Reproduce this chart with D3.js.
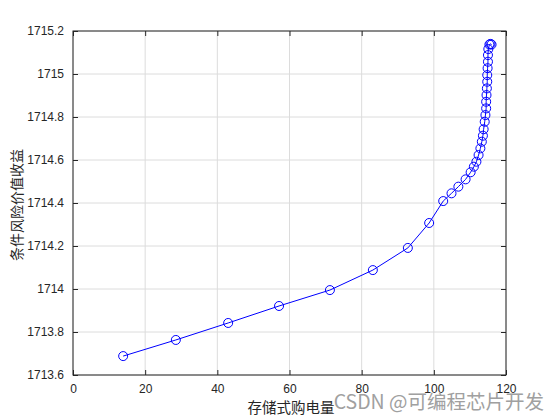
<!DOCTYPE html>
<html><head><meta charset="utf-8">
<script src="https://cdn.jsdelivr.net/npm/d3@7"></script>
<style>body{margin:0;background:#fff;} svg{display:block;}</style>
</head><body>
<svg id="chart" width="560" height="420"></svg>
<script>
const xValues = [13.9, 28.5, 43.0, 57.1, 71.2, 83.1, 92.8, 98.7, 102.6, 104.9, 106.8, 108.8, 110.2, 111.1, 111.8, 112.4, 112.9, 113.3, 113.6, 113.8, 114.1, 114.3, 114.5, 114.5, 114.6, 114.7, 114.8, 114.8, 114.9, 115.0, 115.0, 115.1, 115.4, 115.7, 116.0];
const yValues = [1713.688, 1713.763, 1713.842, 1713.921, 1713.995, 1714.088, 1714.191, 1714.307, 1714.409, 1714.445, 1714.476, 1714.510, 1714.543, 1714.569, 1714.592, 1714.623, 1714.654, 1714.685, 1714.713, 1714.743, 1714.778, 1714.809, 1714.840, 1714.871, 1714.902, 1714.933, 1714.964, 1714.995, 1715.027, 1715.057, 1715.088, 1715.116, 1715.137, 1715.140, 1715.137];
const xTicks = [0, 20, 40, 60, 80, 100, 120];
const yTicks = [1713.6, 1713.8, 1714, 1714.2, 1714.4, 1714.6, 1714.8, 1715, 1715.2];
const xLabel = "存储式购电量";
const yLabel = "条件风险价值收益";
const watermark = "CSDN @可编程芯片开发";

const svg = d3.select("#chart");
const L = 73, R = 506, T = 31, B = 375;
const x = d3.scaleLinear().domain([0, 120]).range([L, R]);
const y = d3.scaleLinear().domain([1713.6, 1715.2]).range([B, T]);
const fontTick = "Liberation Sans, Arial, sans-serif";

// grid
const g = svg.append("g");
g.selectAll(".gx").data(xTicks).enter().append("line")
  .attr("x1", d => x(d)).attr("x2", d => x(d)).attr("y1", T).attr("y2", B)
  .attr("stroke", "#dcdcdc").attr("stroke-width", 1);
g.selectAll(".gy").data(yTicks).enter().append("line")
  .attr("y1", d => y(d)).attr("y2", d => y(d)).attr("x1", L).attr("x2", R)
  .attr("stroke", "#dcdcdc").attr("stroke-width", 1);

// axes
const xAxis = d3.axisBottom(x).tickValues(xTicks).tickSizeInner(-5).tickSizeOuter(0).tickPadding(9).tickFormat(d3.format("d"));
const yAxis = d3.axisLeft(y).tickValues(yTicks).tickSizeInner(-5).tickSizeOuter(0).tickPadding(9).tickFormat(d => String(+d.toFixed(1)));
const gx = svg.append("g").attr("transform", `translate(0,${B})`).call(xAxis);
const gy = svg.append("g").attr("transform", `translate(${L},0)`).call(yAxis);
const gxTop = svg.append("g").attr("transform", `translate(0,${T})`).call(d3.axisTop(x).tickValues(xTicks).tickSizeInner(-5).tickSizeOuter(0).tickFormat(""));
const gyRight = svg.append("g").attr("transform", `translate(${R},0)`).call(d3.axisRight(y).tickValues(yTicks).tickSizeInner(-5).tickSizeOuter(0).tickFormat(""));
[gx, gy, gxTop, gyRight].forEach(a => {
  a.select(".domain").remove();
  a.selectAll("line").attr("stroke", "#262626");
  a.selectAll("text").attr("fill", "#262626").style("font-family", fontTick).style("font-size", "12px");
});
svg.append("rect").attr("x", L).attr("y", T).attr("width", R - L).attr("height", B - T)
  .attr("fill", "none").attr("stroke", "#262626").attr("stroke-width", 1);

// data
const pts = xValues.map((v, i) => [v, yValues[i]]);
svg.append("path").datum(pts)
  .attr("d", d3.line().x(d => x(d[0])).y(d => y(d[1])))
  .attr("fill", "none").attr("stroke", "#0000ff").attr("stroke-width", 1);
svg.selectAll(".pt").data(pts).enter().append("circle")
  .attr("cx", d => x(d[0])).attr("cy", d => y(d[1])).attr("r", 4.5)
  .attr("fill", "none").attr("stroke", "#0000ff").attr("stroke-width", 1);

// labels
const cjk = "'Noto Sans CJK SC', sans-serif";
svg.append("text").attr("x", 291).attr("y", 413).attr("text-anchor", "middle")
  .style("font-family", cjk).style("font-size", "14.5px").attr("fill", "#262626").text(xLabel);
svg.append("text").attr("transform", `translate(22,${(T + B) / 2 + 2}) rotate(-90)`).attr("text-anchor", "middle")
  .style("font-family", cjk).style("font-size", "14px").attr("fill", "#262626").text(yLabel);
svg.append("text").attr("x", 544).attr("y", 409).attr("text-anchor", "end")
  .style("font-family", cjk).style("font-size", "19.5px").attr("fill", "#a0a0a0").text(watermark);
</script>
</body></html>
